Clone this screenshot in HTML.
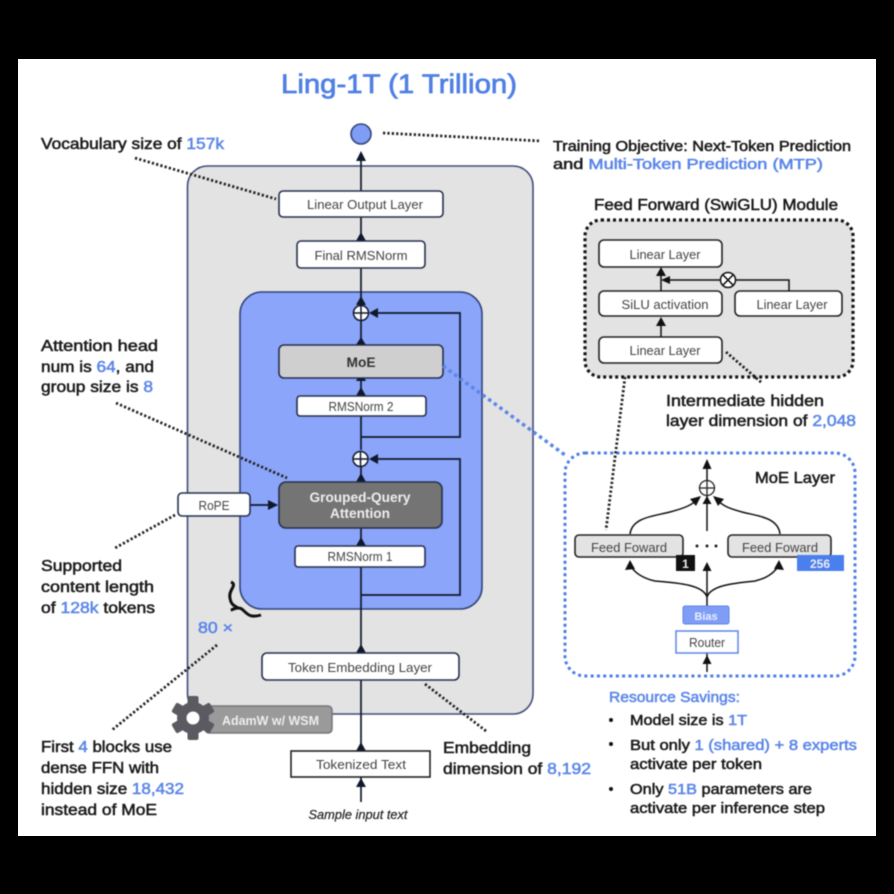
<!DOCTYPE html>
<html><head><meta charset="utf-8"><style>
html,body{margin:0;padding:0;background:#000}
svg{display:block}
text{font-family:"Liberation Sans",sans-serif}
.l{font-size:16px;fill:#1c1c1c;stroke:#1c1c1c;stroke-width:.55}
.b{fill:#5b86e8;stroke:#5b86e8}
.n{font-size:13px;fill:#444;text-anchor:middle}
.w{fill:#fff;stroke:#26304f;stroke-width:1.6}
.a{stroke:#10182c;stroke-width:1.7;fill:none}
.h{fill:#10182c}
.d{stroke:#222;stroke-width:2.800;stroke-dasharray:2.200 2.200;fill:none}
</style></head><body>
<svg width="894" height="894" viewBox="0 0 894 894" xmlns="http://www.w3.org/2000/svg">
<rect width="894" height="894" fill="#000"/>
<rect x="18" y="59" width="858" height="777" fill="#fff"/>
<g style="filter:blur(.6px)">
<text x="281" y="93" font-size="27" textLength="236" lengthAdjust="spacingAndGlyphs" fill="#5080e4" stroke="#5080e4" stroke-width=".75">Ling-1T (1 Trillion)</text>

<rect x="187.5" y="166" width="345.500" height="548" rx="20" fill="#e3e3e3" stroke="#3f4c7c" stroke-width="1.6"/>
<rect x="240" y="292" width="242" height="317" rx="22" fill="#8aa5f9" stroke="#33447c" stroke-width="1.6"/>

<path class="a" d="M361 160V191M361 217V241M361 268V305M361 321V345M361 378V396M361 416V450M361 466V482M361 528V546M361 567V653M361 680V751M361 777V802"/>
<path class="a" d="M361 437H460V313H371M361 595H460V459H371M250 505H277"/>
<g class="h">
<path d="M361 151l-5 10h10zM361 232l-5 9h10zM361 296l-5 9h10zM361 372l-5 9h10z"/>
<path d="M361 337l-5 8h10zM361 387l-5 9h10zM361 473l-5 9h10zM361 537l-5 9h10zM361 644l-5 9 h10zM361 742l-5 9h10zM361 778l-5 9h10z"/>
<path d="M369 313l9-5v10zM369 459l9-5v10zM278 505l-10-5v10z"/>
</g>

<circle cx="361" cy="134" r="10" fill="#7f9df5" stroke="#33447c" stroke-width="1.6"/>
<rect class="w" x="279" y="191" width="164" height="26" rx="4"/>
<text class="n" x="365" y="209" textLength="116" lengthAdjust="spacingAndGlyphs">Linear Output Layer</text>
<rect class="w" x="297" y="241" width="128" height="27" rx="4"/>
<text class="n" x="361" y="260" textLength="93" lengthAdjust="spacingAndGlyphs">Final RMSNorm</text>

<rect x="279" y="345" width="164" height="33" rx="5" fill="#d0cfd0" stroke="#26304f" stroke-width="1.6"/>
<text x="361" y="367" text-anchor="middle" font-size="14" font-weight="bold" fill="#333" textLength="29" lengthAdjust="spacingAndGlyphs">MoE</text>
<rect class="w" x="297" y="396" width="129" height="20" rx="3"/>
<text class="n" x="361" y="411" font-size="12" textLength="65" lengthAdjust="spacingAndGlyphs">RMSNorm 2</text>
<rect x="279" y="482" width="163" height="46" rx="7" fill="#747474" stroke="#26304f" stroke-width="1.6"/>
<text x="360" y="502" text-anchor="middle" font-size="13.500" font-weight="bold" fill="#eee" textLength="101" lengthAdjust="spacingAndGlyphs">Grouped-Query</text>
<text x="360" y="518" text-anchor="middle" font-size="13.500" font-weight="bold" fill="#eee" textLength="60" lengthAdjust="spacingAndGlyphs">Attention</text>
<rect class="w" x="295" y="546" width="130" height="21" rx="3"/>
<text class="n" x="360" y="561" font-size="12" textLength="65" lengthAdjust="spacingAndGlyphs">RMSNorm 1</text>
<rect class="w" x="178" y="493" width="72" height="23" rx="4"/>
<text class="n" x="214" y="510" textLength="31" lengthAdjust="spacingAndGlyphs">RoPE</text>
<rect class="w" x="262" y="653" width="197" height="27" rx="5"/>
<text class="n" x="360" y="672" textLength="144" lengthAdjust="spacingAndGlyphs">Token Embedding Layer</text>
<rect x="291" y="751" width="139" height="26" fill="#fff" stroke="#222" stroke-width="1.6"/>
<text class="n" x="361" y="769" textLength="90" lengthAdjust="spacingAndGlyphs">Tokenized Text</text>
<text x="358" y="819" text-anchor="middle" font-size="12.500" font-style="italic" fill="#222" stroke="#222" stroke-width=".2" textLength="99" lengthAdjust="spacingAndGlyphs">Sample input text</text>

<g fill="none" stroke="#10182c" stroke-width="1.5">
<circle cx="361" cy="313" r="7.500" fill="#fff"/><path d="M353.500 313H368.500M361 305.500V320.500"/>
<circle cx="360.500" cy="459" r="7.500" fill="#fff"/><path d="M353 459H368M360.500 451.500V466.500"/>
</g>

<path d="M231 582c7 3-3 8-1 16 1 8 6 8 8 10-4 0-6 2-7 2 3-1 8-4 12 0 5 5 8 8 18 5" fill="none" stroke="#111" stroke-width="3"/>
<text x="198" y="633" font-size="16" textLength="35" lengthAdjust="spacingAndGlyphs" class="l b">80 ×</text>

<rect x="205" y="706" width="127" height="27" rx="4" fill="#9a9a9a" stroke="#777" stroke-width="1.500"/>
<text x="222" y="725" font-size="13" font-weight="bold" fill="#eee" textLength="97" lengthAdjust="spacingAndGlyphs">AdamW w/ WSM</text>
<g transform="translate(193,718)" fill="#5a5a60">
<circle r="16"/>
<g><rect x="-5.500" y="-22" width="11" height="10" rx="2"/><rect x="-5.500" y="12" width="11" height="10" rx="2"/></g>
<g transform="rotate(60)"><rect x="-5.500" y="-22" width="11" height="10" rx="2"/><rect x="-5.500" y="12" width="11" height="10" rx="2"/></g>
<g transform="rotate(120)"><rect x="-5.500" y="-22" width="11" height="10" rx="2"/><rect x="-5.500" y="12" width="11" height="10" rx="2"/></g>
<circle r="6.500" fill="#fff"/>
</g>

<path class="d" d="M135 158L276 199M116 403L287 478M175 515L115 548M217 645L112 730M425 684L486 731M383 133L541 141"/>
<path d="M443 366L565 455" fill="none" stroke="#5b86e8" stroke-width="3.500" stroke-dasharray="3.500 3.500"/>

<rect x="585" y="220" width="268" height="157" rx="16" fill="#e3e3e3" stroke="#151515" stroke-width="3.200" stroke-dasharray="3 3"/>
<rect class="w" x="599" y="240" width="123" height="27" rx="5" style="stroke:#222"/>
<text class="n" x="665" y="259" textLength="71" lengthAdjust="spacingAndGlyphs">Linear Layer</text>
<rect class="w" x="599" y="291" width="123" height="25" rx="5" style="stroke:#222"/>
<text class="n" x="665" y="309" textLength="87" lengthAdjust="spacingAndGlyphs">SiLU activation</text>
<rect class="w" x="735" y="291" width="107" height="25" rx="5" style="stroke:#222"/>
<text class="n" x="792" y="309" textLength="71" lengthAdjust="spacingAndGlyphs">Linear Layer</text>
<rect class="w" x="599" y="337" width="123" height="26" rx="5" style="stroke:#222"/>
<text class="n" x="665" y="355" textLength="71" lengthAdjust="spacingAndGlyphs">Linear Layer</text>
<path d="M661 291V274M661 337V326M669 280H720M736 280H789V291" fill="none" stroke="#111" stroke-width="1.500"/>
<path d="M661 267l-5 9h10zM661 317l-5 9h10zM661 280l9-4v8z" fill="#111"/>
<circle cx="728" cy="280" r="7.500" fill="#fff" stroke="#111" stroke-width="1.500"/>
<path d="M722.700 274.700L733.300 285.300M733.300 274.700L722.700 285.300" stroke="#111" stroke-width="1.500"/>
<path class="d" d="M726 352L762 383"/>

<rect x="565" y="453" width="290" height="223" rx="20" fill="#fff" stroke="#4d7ee6" stroke-width="3" stroke-dasharray="3 3.300"/>
<path class="d" d="M625 377L606 530"/>
<text x="755" y="483" class="l" textLength="80" lengthAdjust="spacingAndGlyphs">MoE Layer</text>
<path d="M707 480V468M707 496V531M707 606V570M707 653V672" fill="none" stroke="#111" stroke-width="1.500"/>
<path d="M707 459l-4.500 10h9zM707 496l-4.500 8h9zM707 562l-4.500 9h9zM707 655l-4.500 9h9z" fill="#111"/>
<path d="M630 534C632 517 655 516 670 512C685 508 692 505 698 499M780 534C778 517 757 516 742 512C727 508 722 505 716 499M707 597C703 585 680 583 655 581C642 578 634 572 630 565M707 597C711 585 735 583 755 581C768 578 775 572 779 565" fill="none" stroke="#111" stroke-width="1.500"/>
<path d="M701 496l-11 3 6 7zM713 496l11 3-6 7zM630 560l-5 10 10-1zM779 560l5 10-10-1z" fill="#111"/>
<circle cx="707" cy="488" r="7.500" fill="#fff" stroke="#222" stroke-width="1.300"/>
<path d="M699.500 488H714.500M707 480.500V495.500" stroke="#222" stroke-width="1.300"/>
<rect x="575" y="535" width="108" height="22" rx="4" fill="#e3e3e3" stroke="#222" stroke-width="1.600"/>
<text class="n" x="629" y="552" textLength="76" lengthAdjust="spacingAndGlyphs">Feed Foward</text>
<rect x="728" y="535" width="103" height="22" rx="4" fill="#e3e3e3" stroke="#222" stroke-width="1.600"/>
<text class="n" x="780" y="552" textLength="76" lengthAdjust="spacingAndGlyphs">Feed Foward</text>
<rect x="676" y="555" width="19" height="16" fill="#111"/>
<text x="685.500" y="568" text-anchor="middle" font-size="12" font-weight="bold" fill="#eee">1</text>
<rect x="797" y="555" width="47" height="16" fill="#4a7fee"/>
<text x="820" y="568" text-anchor="middle" font-size="12" font-weight="bold" fill="#eee">256</text>
<circle cx="697" cy="546" r="1.500" fill="#222"/><circle cx="707" cy="546" r="1.500" fill="#222"/><circle cx="716" cy="546" r="1.500" fill="#222"/>
<rect x="683" y="606" width="46" height="18" rx="2" fill="#7f9df5" stroke="#5b86e8"/>
<text x="706" y="620" text-anchor="middle" font-size="11" font-weight="bold" fill="#e8eeff">Bias</text>
<rect x="676" y="631" width="62" height="22" fill="#fff" stroke="#5b86e8" stroke-width="1.500"/>
<text class="n" x="707" y="647" font-size="12" textLength="36" lengthAdjust="spacingAndGlyphs">Router</text>

<text class="l" x="41" y="149" textLength="183" lengthAdjust="spacingAndGlyphs">Vocabulary size of <tspan class="b">157k</tspan></text>
<text class="l" x="41" y="351" textLength="117" lengthAdjust="spacingAndGlyphs">Attention head</text>
<text class="l" x="41" y="372" textLength="113" lengthAdjust="spacingAndGlyphs">num is <tspan class="b">64</tspan>, and</text>
<text class="l" x="41" y="392" textLength="112" lengthAdjust="spacingAndGlyphs">group size is <tspan class="b">8</tspan></text>
<text class="l" x="41" y="571" textLength="81" lengthAdjust="spacingAndGlyphs">Supported</text>
<text class="l" x="41" y="592" textLength="113" lengthAdjust="spacingAndGlyphs">content length</text>
<text class="l" x="41" y="613" textLength="114" lengthAdjust="spacingAndGlyphs">of <tspan class="b">128k</tspan> tokens</text>
<text class="l" x="41" y="752" textLength="131" lengthAdjust="spacingAndGlyphs">First <tspan class="b">4</tspan> blocks use</text>
<text class="l" x="41" y="773" textLength="118" lengthAdjust="spacingAndGlyphs">dense FFN with</text>
<text class="l" x="41" y="794" textLength="143" lengthAdjust="spacingAndGlyphs">hidden size <tspan class="b">18,432</tspan></text>
<text class="l" x="41" y="815" textLength="116" lengthAdjust="spacingAndGlyphs">instead of MoE</text>
<text class="l" x="443" y="753" textLength="88" lengthAdjust="spacingAndGlyphs">Embedding</text>
<text class="l" x="443" y="774" textLength="148" lengthAdjust="spacingAndGlyphs">dimension of <tspan class="b">8,192</tspan></text>
<text class="l" x="553" y="151" style="font-size:14.500px" textLength="298" lengthAdjust="spacingAndGlyphs">Training Objective: Next-Token Prediction</text>
<text class="l" x="553" y="169" style="font-size:14.500px" textLength="270" lengthAdjust="spacingAndGlyphs">and <tspan class="b">Multi-Token Prediction (MTP)</tspan></text>
<text class="l" x="594" y="210" textLength="244" lengthAdjust="spacingAndGlyphs">Feed Forward (SwiGLU) Module</text>
<text class="l" x="666" y="406" textLength="158" lengthAdjust="spacingAndGlyphs">Intermediate hidden</text>
<text class="l" x="666" y="426" textLength="190" lengthAdjust="spacingAndGlyphs">layer dimension of <tspan class="b">2,048</tspan></text>
<text class="l b" x="609" y="702" style="font-size:15px" textLength="131" lengthAdjust="spacingAndGlyphs">Resource Savings:</text>
<text class="l" x="630" y="725" style="font-size:15px" textLength="117" lengthAdjust="spacingAndGlyphs">Model size is <tspan class="b">1T</tspan></text>
<text class="l" x="630" y="750" style="font-size:15px" textLength="227" lengthAdjust="spacingAndGlyphs">But only <tspan class="b">1 (shared) + 8 experts</tspan></text>
<text class="l" x="630" y="769" style="font-size:15px" textLength="132" lengthAdjust="spacingAndGlyphs">activate per token</text>
<text class="l" x="630" y="794" style="font-size:15px" textLength="182" lengthAdjust="spacingAndGlyphs">Only <tspan class="b">51B</tspan> parameters are</text>
<text class="l" x="630" y="813" style="font-size:15px" textLength="195" lengthAdjust="spacingAndGlyphs">activate per inference step</text>
<circle cx="611" cy="720" r="2" fill="#111"/><circle cx="611" cy="744" r="2" fill="#111"/><circle cx="611" cy="789" r="2" fill="#111"/>
</g>
</svg>
</body></html>
